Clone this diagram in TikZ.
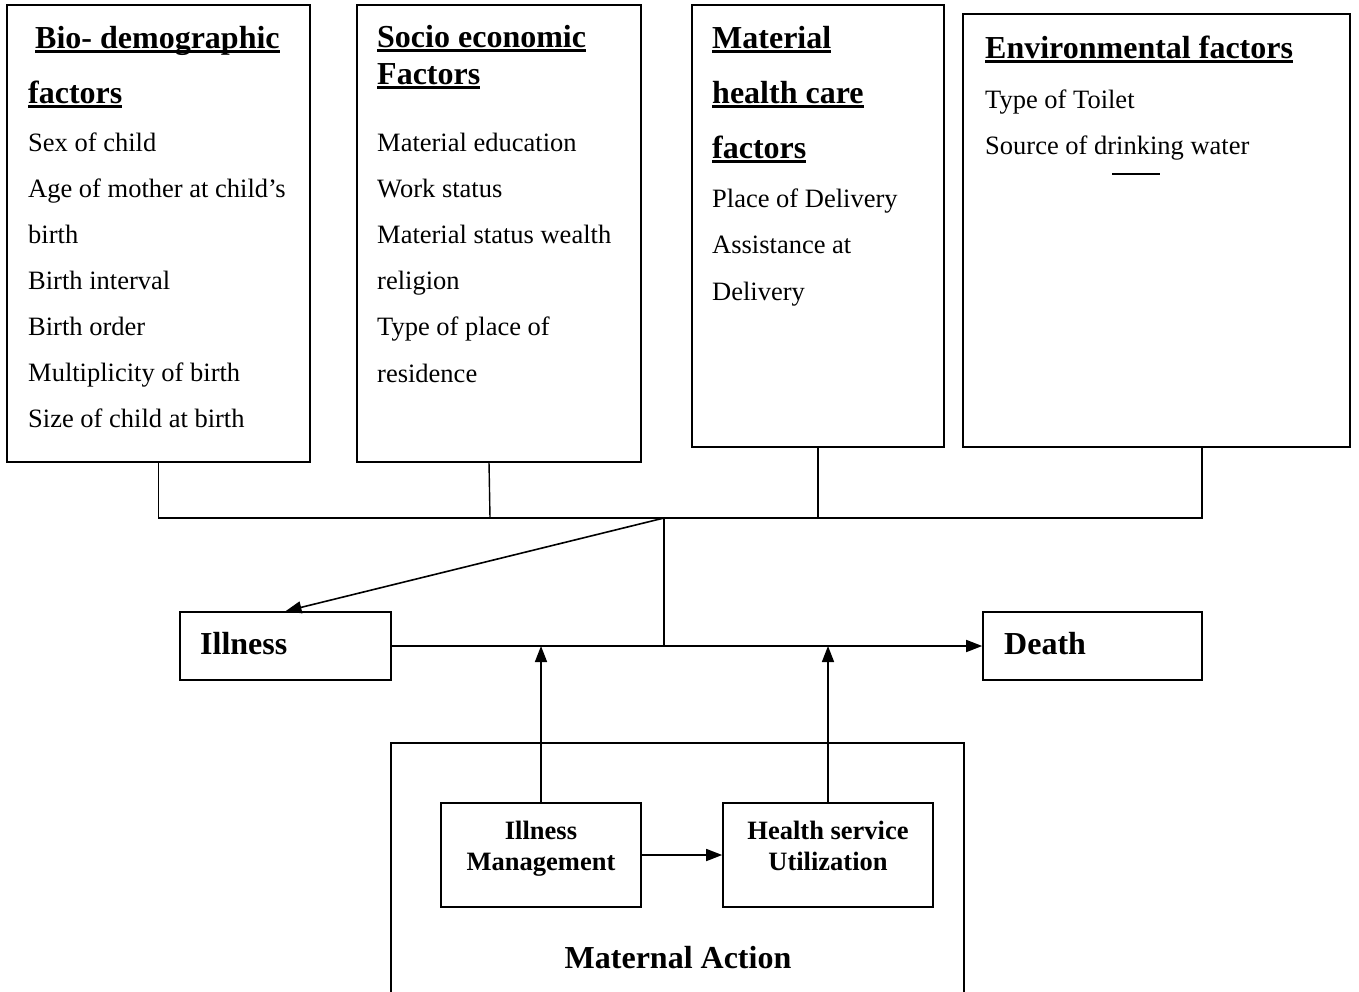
\documentclass[tikz,border=0pt]{standalone}
\usepackage{fontspec}
\setmainfont{Liberation Serif}
\usetikzlibrary{arrows.meta,calc}
\newcommand{\ulx}[1]{\setbox0\hbox{#1}\rlap{\rule[-4.5pt]{\wd0}{2.6pt}}\box0}
\tikzset{
  box/.style={draw, line width=1.6pt, inner sep=0pt},
  conn/.style={line width=1.4pt},
  arr/.style={line width=1.6pt, -{Triangle[length=16pt,width=12pt]}},
  body/.style={anchor=base west, inner sep=0pt, font=\fontsize{26.5}{30}\selectfont},
  head/.style={anchor=base west, inner sep=0pt, font=\fontsize{32}{36}\selectfont\bfseries},
  small/.style={align=center, inner sep=0pt, font=\fontsize{26.5}{31}\selectfont\bfseries},
}
\begin{document}
\begin{tikzpicture}[x=1pt,y=-1pt]
\clip (0,0) rectangle (1359,991);
\useasboundingbox (0,0) rectangle (1359,991);
% boxes
\node[box, minimum width=303pt, minimum height=457pt] (b1) at (158.5,233.5) {};
\node[box, minimum width=284pt, minimum height=457pt] (b2) at (499,233.5) {};
\node[box, minimum width=252pt, minimum height=442pt] (b3) at (818,226) {};
\node[box, minimum width=387pt, minimum height=433pt] (b4) at (1156.5,230.5) {};
\node[box, minimum width=211pt, minimum height=68pt] (ill) at (285.5,646) {};
\node[box, minimum width=219pt, minimum height=68pt] (death) at (1092.5,646) {};
\node[box, minimum width=573pt, minimum height=270pt] (ma) at (677.5,878) {};
\node[box, minimum width=200pt, minimum height=104pt] (im) at (541,855) {};
\node[box, minimum width=210pt, minimum height=104pt] (hs) at (828,855) {};
% box 1 text
\node[head] (h1a) at (35,48) {\ulx{Bio- demographic}};
\node[head] (h1b) at (28,103) {\ulx{factors}};
\node[body] (t11) at (28,151) {Sex of child};
\node[body] (t12) at (28,197) {Age of mother at child’s};
\node[body] (t13) at (28,243) {birth};
\node[body] (t14) at (28,289) {Birth interval};
\node[body] (t15) at (28,335) {Birth order};
\node[body] (t16) at (28,381) {Multiplicity of birth};
\node[body] (t17) at (28,427) {Size of child at birth};
% box 2 text
\node[head] (h2a) at (377,47) {\ulx{Socio economic}};
\node[head] (h2b) at (377,84) {\ulx{Factors}};
\node[body] (t21) at (377,151) {Material education};
\node[body] (t22) at (377,197) {Work status};
\node[body] (t23) at (377,243) {Material status wealth};
\node[body] (t24) at (377,289) {religion};
\node[body] (t25) at (377,335) {Type of place of};
\node[body] (t26) at (377,382) {residence};
% box 3 text
\node[head] (h3a) at (712,48) {\ulx{Material}};
\node[head] (h3b) at (712,103) {\ulx{health care}};
\node[head] (h3c) at (712,158) {\ulx{factors}};
\node[body] (t31) at (712,207) {Place of Delivery};
\node[body] (t32) at (712,253) {Assistance at};
\node[body] (t33) at (712,300) {Delivery};
% box 4 text
\node[head] (h4a) at (985,58) {\ulx{Environmental factors}};
\node[body] (t41) at (985,108) {Type of Toilet};
\node[body] (t42) at (985,154) {Source of drinking water};
\draw[line width=2pt] (1112,174) -- (1160,174);
% lower texts
\node[head] (ilt) at (200,654) {Illness};
\node[head] (det) at (1004,654) {Death};
\node[small] (imt) at (541,849) {Illness\\Management};
\node[small] (hst) at (828,846) {Health service\\Utilization};
\node[head, anchor=center] (mat) at (678,958) {Maternal Action};
% connectors
\coordinate (hub) at (664,518);
\coordinate (s2) at (489,462);
\coordinate (s4) at (1202,447);
\draw[conn] (b1.south) |- (hub);
\draw[conn] (s4) |- (hub);
\draw[conn] (s2) -- (490,518);
\draw[conn] (b3.south) -- (b3.south |- hub);
\draw[arr] (hub) -- (ill.north);
\draw[conn] (hub) -- (hub |- ill.east);
\draw[arr] (ill.east) -- (death.west);
\draw[arr] (im.north) -- (im.north |- ill.east);
\draw[arr] (hs.north) -- (hs.north |- ill.east);
\draw[arr] (im.east) -- (hs.west);
\end{tikzpicture}
\end{document}
